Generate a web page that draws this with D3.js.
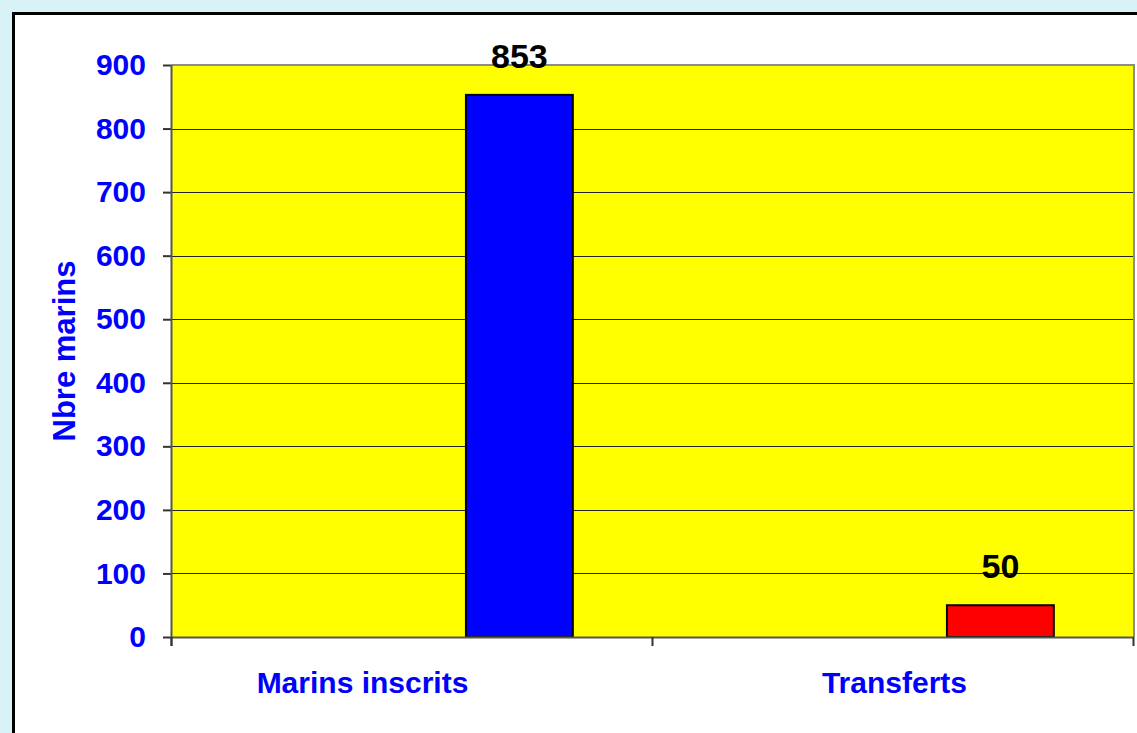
<!DOCTYPE html>
<html>
<head>
<meta charset="utf-8">
<script src="https://cdn.jsdelivr.net/npm/d3@7"></script>
<style>
  html, body { margin: 0; padding: 0; background: #d9f2f7; }
  svg { display: block; }
  text { font-family: Arial, "Liberation Sans", sans-serif; font-weight: bold; }
</style>
</head>
<body>
<svg id="chart" width="1137" height="733"></svg>
<script>
// ---- data ----
const categories = ["Marins inscrits", "Transferts"];
const seriesKeys = ["s1", "s2", "s3"];      // Excel clustered slots; values sit in the 3rd slot
const values = [853, 50];
const barColors = ["#0000ff", "#ff0000"];
const yTicks = [0, 100, 200, 300, 400, 500, 600, 700, 800, 900];
const yTitle = "Nbre marins";

// ---- layout ----
const W = 1137, H = 733;
const plot = { left: 172, top: 65, right: 1134, bottom: 637 };

const svg = d3.select("#chart");

// chart frame
svg.append("rect").attr("x", 0).attr("y", 0).attr("width", W).attr("height", H).attr("fill", "#d9f2f7");
svg.append("rect").attr("x", 13.5).attr("y", 13.5).attr("width", W + 20).attr("height", H + 20)
  .attr("fill", "#ffffff").attr("stroke", "#000").attr("stroke-width", 3);

// scales
const y = d3.scaleLinear().domain([0, 900]).range([plot.bottom, plot.top]);
const x0 = d3.scaleBand().domain(categories).range([plot.left, plot.right]).padding(0);
const x1 = d3.scaleBand().domain(seriesKeys).range([0, x0.bandwidth()]).paddingInner(0).paddingOuter(0.75);

// plot background
svg.append("rect").attr("x", plot.left).attr("y", plot.top)
  .attr("width", plot.right - plot.left).attr("height", plot.bottom - plot.top)
  .attr("fill", "#ffff00");

// gridlines
svg.append("g").selectAll("line").data(yTicks.filter(d => d > 0 && d < 900)).join("line")
  .attr("x1", plot.left).attr("x2", plot.right)
  .attr("y1", d => Math.round(y(d)) + 0.5).attr("y2", d => Math.round(y(d)) + 0.5)
  .attr("stroke", "#222").attr("stroke-width", 1);

// plot top/right border
svg.append("path")
  .attr("d", `M${plot.left},${plot.top} H${plot.right} V${plot.bottom}`)
  .attr("fill", "none").attr("stroke", "#8c8c8c").attr("stroke-width", 2);

// bars
svg.append("g").selectAll("rect").data(values).join("rect")
  .attr("x", (d, i) => x0(categories[i]) + x1("s3"))
  .attr("y", d => y(d))
  .attr("width", x1.bandwidth())
  .attr("height", d => plot.bottom - y(d))
  .attr("fill", (d, i) => barColors[i])
  .attr("stroke", "#000").attr("stroke-width", 2);

// value labels
svg.append("g").selectAll("text").data(values).join("text")
  .attr("x", (d, i) => x0(categories[i]) + x1("s3") + x1.bandwidth() / 2)
  .attr("y", d => y(d) - 27)
  .attr("text-anchor", "middle")
  .attr("font-size", 34).attr("fill", "#000")
  .text(d => d);

// y axis
const yAxis = d3.axisLeft(y).tickValues(yTicks).tickSize(9).tickPadding(17).tickFormat(d3.format("d"));
const gy = svg.append("g").attr("transform", `translate(${plot.left},0)`).call(yAxis);
gy.select(".domain").remove();
gy.selectAll(".tick line").attr("stroke", "#333").attr("stroke-width", 2);
gy.selectAll(".tick text").attr("font-size", 30).attr("fill", "#0000ff")
  .attr("font-family", "Arial, 'Liberation Sans', sans-serif").attr("font-weight", "bold");
svg.append("line").attr("x1", plot.left - 0.5).attr("x2", plot.left - 0.5)
  .attr("y1", plot.top).attr("y2", plot.bottom + 9)
  .attr("stroke", "#555").attr("stroke-width", 2);

// x axis
svg.append("line").attr("x1", plot.left).attr("x2", plot.right)
  .attr("y1", plot.bottom + 0.5).attr("y2", plot.bottom + 0.5)
  .attr("stroke", "#555").attr("stroke-width", 2);
const xTickPos = categories.map(c => x0(c)).concat([plot.right]);
svg.append("g").selectAll("line").data(xTickPos).join("line")
  .attr("x1", d => Math.round(d) - 0.5).attr("x2", d => Math.round(d) - 0.5)
  .attr("y1", plot.bottom).attr("y2", plot.bottom + 9)
  .attr("stroke", "#333").attr("stroke-width", 2);

// category labels
const labelShift = [-50, 1];
svg.append("g").selectAll("text").data(categories).join("text")
  .attr("x", (d, i) => x0(d) + x0.bandwidth() / 2 + labelShift[i])
  .attr("y", 693)
  .attr("text-anchor", "middle")
  .attr("font-size", 30).attr("fill", "#0000ff")
  .text(d => d);

// y title
svg.append("text")
  .attr("transform", `translate(75,${(plot.top + plot.bottom) / 2}) rotate(-90)`)
  .attr("text-anchor", "middle")
  .attr("font-size", 31).attr("fill", "#0000ff")
  .text(yTitle);
</script>
</body>
</html>
